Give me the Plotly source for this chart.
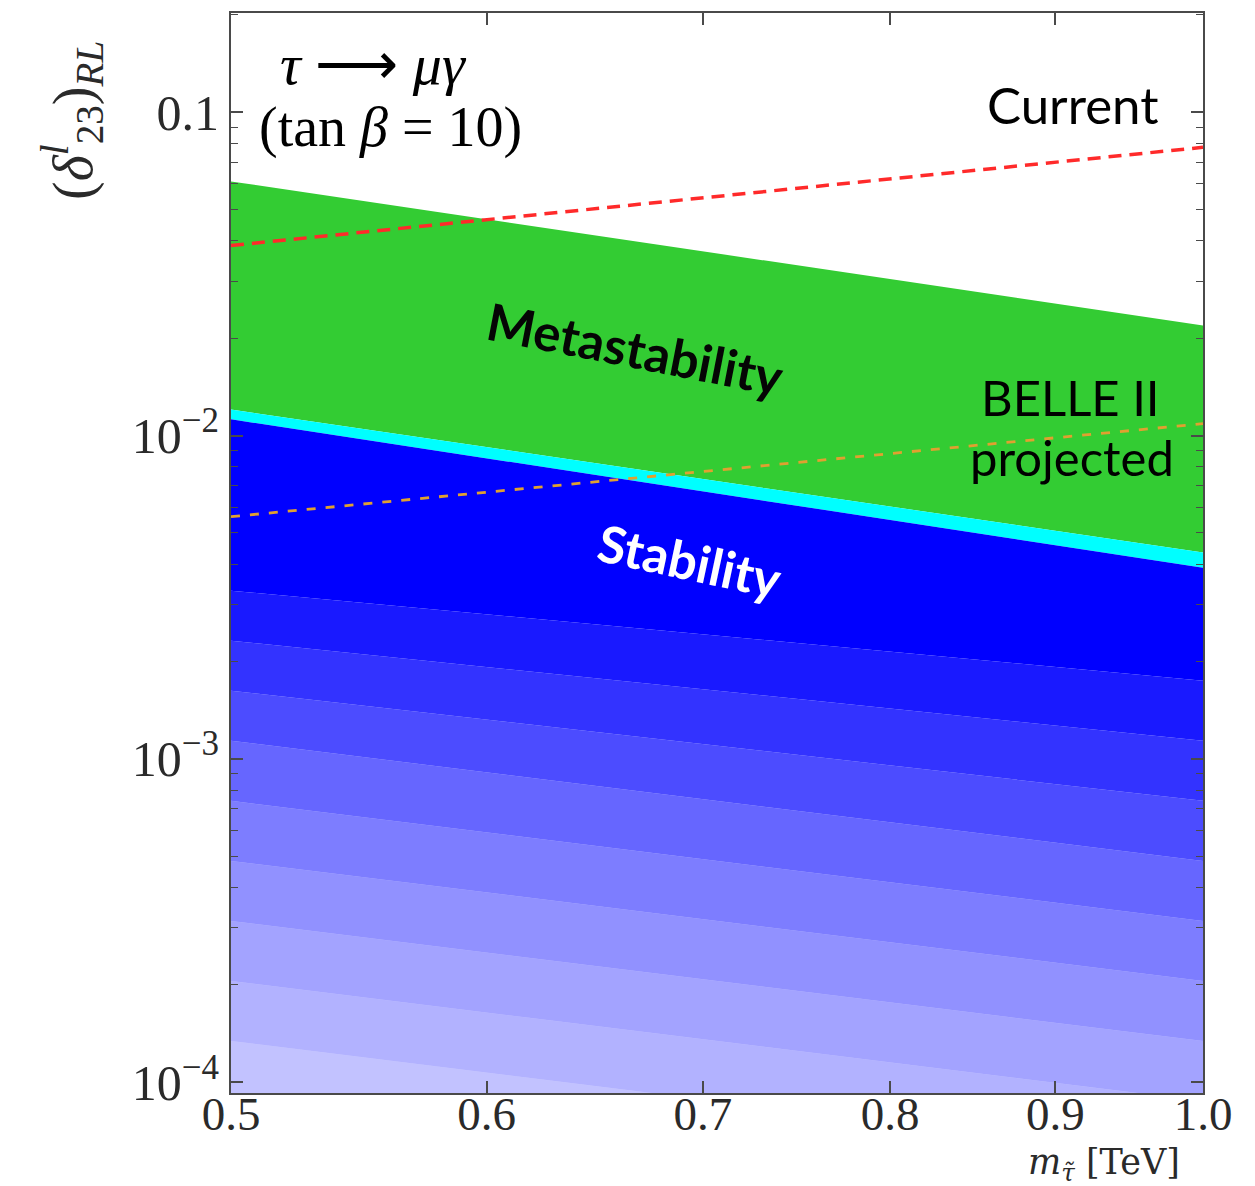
import plotly.graph_objects as go

# ---------------- data ----------------
m_edges = [0.5, 1.0]                      # slepton mass range [TeV]

meta_top = [0.0611, 0.0219]               # upper edge of metastability band
cyan_top = [0.01203, 0.004345]            # upper edge of thin cyan strip
stab_top = [0.01122, 0.0039]              # upper edge of stable (blue) region

current_limit = [0.0387, 0.0779]          # current tau -> mu gamma bound
belle2_limit = [0.00561, 0.01088]         # BELLE II projected bound

# density contours of the stable scan points (value at 0.5, value at 1.0)
dens_contours = [
    [0.003312, 0.001744],
    [0.002319, 0.001137],
    [0.001624, 0.000741],
    [0.001137, 0.000483],
    [0.000741, 0.000315],
    [0.000483, 0.0002055],
    [0.000315, 0.0001339],
    [0.0002055, 0.0000873],
    [0.0001339, 0.0000569],
    [0.00001, 0.00001],
]
dens_cover = [0.90, 0.80, 0.70, 0.60, 0.51, 0.43, 0.36, 0.30, 0.24]

x_ticks = [0.5, 0.6, 0.7, 0.8, 0.9, 1.0]
x_ticktext = ["0.5", "0.6", "0.7", "0.8", "0.9", "1.0"]
y_ticks = [1e-4, 1e-3, 1e-2, 1e-1]
y_ticktext = ["10<sup>\u22124</sup>", "10<sup>\u22123</sup>", "10<sup>\u22122</sup>", "0.1"]

# ---------------- figure ----------------
fig = go.Figure()


def band(upper, lower, **kw):
    xs = [m_edges[0], m_edges[1], m_edges[1], m_edges[0], m_edges[0]]
    ys = [upper[0], upper[1], lower[1], lower[0], upper[0]]
    fig.add_trace(go.Scatter(x=xs, y=ys, mode="lines", fill="toself",
                             line=dict(width=0), hoverinfo="skip",
                             showlegend=False, **kw))


BLUE = "#0000ff"
# metastability (green) and cyan strip
band(meta_top, cyan_top, fillcolor="#33cc33")
band(cyan_top, stab_top, fillcolor="#00ffff")
# solid stable region
band(stab_top, dens_contours[0], fillcolor=BLUE)
# thinning scatter density below
for i, cov in enumerate(dens_cover):
    band(dens_contours[i], dens_contours[i + 1],
         fillcolor=f"rgba(0,0,255,{cov})")

# limits
fig.add_trace(go.Scatter(x=m_edges, y=current_limit, mode="lines",
                         line=dict(color="#ff2a2a", width=3.5, dash="13px,8px"),
                         showlegend=False, hoverinfo="skip"))
fig.add_trace(go.Scatter(x=m_edges, y=belle2_limit, mode="lines",
                         line=dict(color="#e0a030", width=2.8, dash="9px,10px"),
                         showlegend=False, hoverinfo="skip"))

SERIF = "Liberation Serif"
SANS = "Lato"
FRAME = "#4a4a4a"

minor_y = []
for d in [1e-5, 1e-4, 1e-3, 1e-2, 1e-1]:
    for k in range(2, 10):
        minor_y.append(k * d)

fig.update_xaxes(type="log", range=[-0.30103, 0.0],
                 tickmode="array", tickvals=x_ticks, ticktext=x_ticktext,
                 ticks="inside", ticklen=12, tickwidth=1.5, tickcolor=FRAME,
                 ticklabelstandoff=-21,
                 showline=True, linecolor=FRAME, linewidth=2, mirror="ticks",
                 showgrid=False, zeroline=False,
                 tickfont=dict(family=SERIF, size=47, color="#2a2a2a"))
fig.update_yaxes(type="log", range=[-4.034, -0.693],
                 tickmode="array", tickvals=y_ticks, ticktext=y_ticktext,
                 ticks="inside", ticklen=12, tickwidth=1.5, tickcolor=FRAME,
                 minor=dict(tickmode="array", tickvals=minor_y, ticks="inside",
                            ticklen=7, tickwidth=1.2, tickcolor=FRAME,
                            showgrid=False),
                 showline=True, linecolor=FRAME, linewidth=2, mirror="ticks",
                 showgrid=False, zeroline=False,
                 tickfont=dict(family=SERIF, size=50, color="#2a2a2a"))

NB = "\u00a0"
ann = [
    dict(x=0.147, y=0.952, text=f"<i>\u03c4</i>{NB}\u27f6{NB}<i>\u03bc\u03b3</i>",
         font=dict(family=SERIF, size=58, color="black")),
    dict(x=0.1636, y=0.8944, text=f"(tan{NB}<i>\u03b2</i>{NB}={NB}10)",
         font=dict(family=SERIF, size=56, color="black")),
    dict(x=0.866, y=0.915, text="Current",
         font=dict(family=SANS, size=51, color="black")),
    dict(x=0.864, y=0.644, text="BELLE II",
         font=dict(family=SANS, size=49, color="black")),
    dict(x=0.865, y=0.589, text="projected",
         font=dict(family=SANS, size=49, color="black")),
    dict(x=0.4156, y=0.6889, text="<b>Metastability</b>", textangle=11,
         font=dict(family=SANS, size=51, color="#050505")),
    dict(x=0.472, y=0.4926, text="<b>Stability</b>", textangle=12,
         font=dict(family=SANS, size=51, color="white")),
    dict(x=-0.1636, y=0.901, textangle=-90,
         text="(<i>\u03b4</i><sup><i>l</i></sup><sub>23</sub>)<sub><i>RL</i></sub>",
         font=dict(family=SERIF, size=56, color="#2a2a2a")),
    dict(x=0.898, y=-0.066,
         text="<i>m</i><sub><i>\u03c4\u0303</i></sub> [TeV]",
         font=dict(family="DejaVu Serif", size=35, color="#2a2a2a")),
]
for a in ann:
    a.update(xref="paper", yref="paper", showarrow=False,
             xanchor="center", yanchor="middle")
fig.update_layout(annotations=ann)

fig.update_layout(width=1255, height=1186,
                  margin=dict(l=231, r=52, t=13, b=93, autoexpand=False),
                  paper_bgcolor="white", plot_bgcolor="white",
                  showlegend=False)

fig.write_html("out.html")
